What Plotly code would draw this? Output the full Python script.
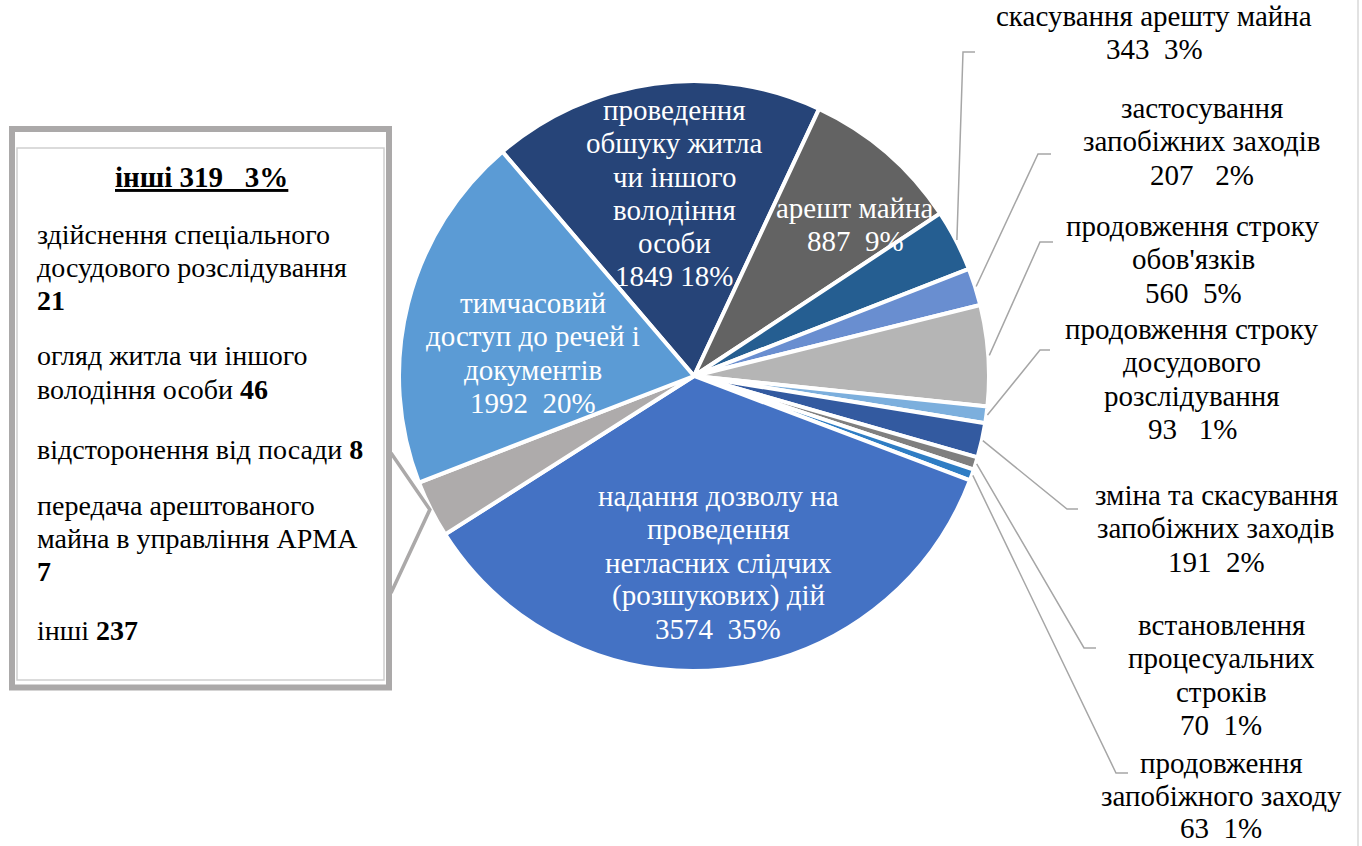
import math
import plotly.graph_objects as go

W, H = 1362, 846

# ---- data ----
categories = [
    "проведення обшуку житла чи іншого володіння особи",
    "арешт майна",
    "скасування арешту майна",
    "застосування запобіжних заходів",
    "продовження строку обов'язків",
    "продовження строку досудового розслідування",
    "зміна та скасування запобіжних заходів",
    "встановлення процесуальних строків",
    "продовження запобіжного заходу",
    "надання дозволу на проведення негласних слідчих (розшукових) дій",
    "інші",
    "тимчасовий доступ до речей і документів",
]
values = [1849, 887, 343, 207, 560, 93, 191, 70, 63, 3574, 319, 1992]
pct_labels = ["18%", "9%", "3%", "2%", "5%", "1%", "2%", "1%", "1%", "35%", "3%", "20%"]
colors = ["#264478", "#636363", "#255E91", "#698ED0", "#B5B5B5", "#7CAFDD",
          "#335AA0", "#7F7F7F", "#2F7DC4", "#4472C4", "#AEABAB", "#5B9BD5"]

# wrapped label text (as printed on the chart)
label_lines = [
    ["проведення", "обшуку житла", "чи іншого", "володіння", "особи"],
    ["арешт майна"],
    ["скасування арешту майна"],
    ["застосування", "запобіжних заходів"],
    ["продовження строку", "обов'язків"],
    ["продовження строку", "досудового", "розслідування"],
    ["зміна та скасування", "запобіжних заходів"],
    ["встановлення", "процесуальних", "строків"],
    ["продовження", "запобіжного заходу"],
    ["надання дозволу на", "проведення", "негласних слідчих", "(розшукових) дій"],
    ["інші"],
    ["тимчасовий", "доступ до речей і", "документів"],
]
value_sep = [" ", "  ", "  ", "   ", "  ", "   ", "  ", "  ", "  ", "  ", "   ", "  "]

# breakdown of "інші"
other_lines = [
    ["здійснення спеціального", "досудового розслідування", ""],
    ["огляд житла чи іншого", "володіння особи"],
    ["відсторонення від посади"],
    ["передача арештованого", "майна в управління АРМА", ""],
    ["інші"],
]
other_values = [21, 46, 8, 7, 237]

# ---- layout constants ----
CX, CY, R = 694, 376, 295
ROT = -40.5
FONT = "Liberation Serif"
FS = 29       # chart labels
FS_BOX = 28   # box text
LS = 33.3
NB = "\u00a0"


def px(x):
    return x / W


def py(y):
    return 1 - y / H


def label_rows(i):
    sep = value_sep[i].replace(" ", NB)
    return label_lines[i] + [f"{values[i]}{sep}{pct_labels[i]}"]


total = sum(values)
mid_angles = []
acc = ROT
for v in values:
    a = v / total * 360
    mid_angles.append(acc + a / 2)
    acc += a


def edge_point(i, extra=1):
    t = math.radians(mid_angles[i])
    return CX + (R + extra) * math.sin(t), CY - (R + extra) * math.cos(t)


fig = go.Figure()
fig.add_trace(go.Pie(
    values=values, labels=categories, sort=False, direction="clockwise",
    rotation=ROT, textinfo="none", showlegend=False, hole=0,
    marker=dict(colors=colors, line=dict(color="white", width=4)),
    domain=dict(x=[px(CX - R), px(CX + R)], y=[py(CY + R), py(CY - R)]),
))

annotations = []
shapes = []


def add_lines(rows, x, y0, color, size, xanchor="center", ls=LS):
    for k, row in enumerate(rows):
        annotations.append(dict(x=px(x), y=py(y0 + k * ls - 2), xref="paper", yref="paper",
                                text=row, showarrow=False, borderpad=0,
                                font=dict(family=FONT, size=size, color=color),
                                xanchor=xanchor, yanchor="middle"))


# inside labels (white)
inside = {0: (674, 112), 1: (855, 210), 11: (533, 305), 9: (718, 498)}
for i, (x, y) in inside.items():
    add_lines(label_rows(i), x, y, "white", FS)

# outside labels with leader lines
outside = {
    2: ((1154, 18), (963, 52), (975, 52)),
    3: ((1202, 110), (1038, 154), (1051, 154)),
    4: ((1193, 228), (1040, 242), (1053, 242)),
    5: ((1192, 331), (1040, 350), (1050, 350)),
    6: ((1216, 497), (1067, 509), (1078, 509)),
    7: ((1221, 627), (1084, 648), (1096, 648)),
    8: ((1221, 765), (1116, 773), (1128, 773)),
}
for i, ((tx, ty), (ex, ey), (hx, hy)) in outside.items():
    add_lines(label_rows(i), tx, ty, "black", FS, ls=(32.5 if i == 8 else LS))
    sx, sy = edge_point(i, 1)
    shapes.append(dict(type="path", xref="paper", yref="paper",
                       path=f"M {px(sx)},{py(sy)} L {px(ex)},{py(ey)} L {px(hx)},{py(hy)}",
                       line=dict(color="#A6A6A6", width=1.5)))

# box for "інші"
shapes.append(dict(type="rect", xref="paper", yref="paper",
                   x0=px(12), x1=px(389), y0=py(687.5), y1=py(129),
                   line=dict(color="#ABA9A9", width=6), fillcolor="white", layer="above"))
shapes.append(dict(type="rect", xref="paper", yref="paper",
                   x0=px(17), x1=px(384), y0=py(680), y1=py(148),
                   line=dict(color="#CFCFCF", width=1.5)))
# callout connector to the "інші" slice
ox, oy = edge_point(10, 1)
shapes.append(dict(type="path", xref="paper", yref="paper",
                   path=f"M {px(391)},{py(453)} L {px(ox)},{py(oy)} L {px(391)},{py(593)}",
                   line=dict(color="#ABA9A9", width=3.5)))
# right border of chart area
shapes.append(dict(type="line", xref="paper", yref="paper",
                   x0=px(1358), x1=px(1358), y0=0, y1=1,
                   line=dict(color="#D9D9D9", width=1.5)))

title = f"<u><b>{categories[10]} {values[10]}{NB*3}{pct_labels[10]}</b></u>"
annotations.append(dict(x=px(201), y=py(177), xref="paper", yref="paper",
                        text=title, showarrow=False,
                        font=dict(family=FONT, size=FS, color="black"),
                        xanchor="center", yanchor="middle"))
para_y = [236, 358, 451, 507, 632]
for rows, val, y in zip(other_lines, other_values, para_y):
    rows = list(rows)
    last = rows[-1]
    rows[-1] = (last + " " if last else "") + f"<b>{val}</b>"
    add_lines(rows, 36, y, "black", FS_BOX, xanchor="left")

fig.update_layout(width=W, height=H, margin=dict(l=0, r=0, t=0, b=0),
                  paper_bgcolor="white", plot_bgcolor="white",
                  annotations=annotations, shapes=shapes)

fig.write_html("out.html", config={"displayModeBar": False},
               post_script="document.body.style.margin='0';document.body.style.overflow='hidden';")
